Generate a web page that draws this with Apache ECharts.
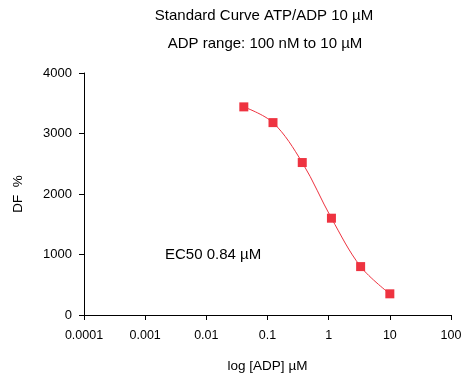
<!DOCTYPE html>
<html>
<head>
<meta charset="utf-8">
<script src="https://cdn.jsdelivr.net/npm/echarts@6/dist/echarts.min.js"></script>
<style>html,body{margin:0;padding:0;background:#fff;overflow:hidden}#c{width:466px;height:378px}</style>
</head>
<body>
<div id="c"></div>
<script>
var concentrations = [0.041, 0.123, 0.37, 1.11, 3.33, 10];
var dfValues = [3440, 3180, 2520, 1600, 800, 350];
var xTickLabels = ['0.0001', '0.001', '0.01', '0.1', '1', '10', '100'];
var yTicks = [0, 1000, 2000, 3000, 4000];
var titleLine1 = 'Standard Curve ATP/ADP 10 µM';
var titleLine2 = 'ADP range: 100 nM to 10 µM';
var ec50Label = 'EC50 0.84 µM';

var FONT = 'Liberation Sans, Arial, sans-serif';
var chart = echarts.init(document.getElementById('c'), null, {renderer: 'canvas', width: 466, height: 378});
var data = concentrations.map(function (c, i) { return [c, dfValues[i]]; });

chart.setOption({
  animation: false,
  backgroundColor: '#fff',
  textStyle: {fontFamily: FONT},
  grid: {left: 84, width: 367, top: 73, height: 244.5, containLabel: false},
  graphic: [
    {type: 'text', x: 264, y: 16, style: {text: titleLine1, font: '15px ' + FONT, fill: '#000', textAlign: 'center', textVerticalAlign: 'middle'}},
    {type: 'text', x: 265, y: 44, style: {text: titleLine2, font: '15px ' + FONT, fill: '#000', textAlign: 'center', textVerticalAlign: 'middle'}},
    {type: 'text', x: 165, y: 255, style: {text: ec50Label, font: '15px ' + FONT, fill: '#000', textAlign: 'left', textVerticalAlign: 'middle'}}
  ],
  xAxis: {
    type: 'log',
    logBase: 10,
    min: 0.0001,
    max: 100,
    name: 'log [ADP] µM',
    nameLocation: 'middle',
    nameGap: 51,
    nameTextStyle: {color: '#000', fontSize: 13.5, fontFamily: FONT, verticalAlign: 'middle'},
    axisLine: {show: true, onZero: false, lineStyle: {color: '#000', width: 1}},
    axisTick: {show: true, inside: false, length: 5, lineStyle: {color: '#000'}},
    minorTick: {show: false},
    splitLine: {show: false},
    axisLabel: {
      color: '#000', fontSize: 12.5, fontFamily: FONT, margin: 14,
      formatter: function (v) {
        var idx = Math.round(Math.log10(v)) + 4;
        return xTickLabels[idx] !== undefined ? xTickLabels[idx] : '';
      }
    }
  },
  yAxis: {
    type: 'value',
    min: yTicks[0],
    max: yTicks[yTicks.length - 1],
    interval: 1000,
    name: 'DF  %',
    nameLocation: 'middle',
    nameGap: 59,
    nameRotate: 90,
    nameTextStyle: {color: '#000', fontSize: 13.5, fontFamily: FONT},
    axisLine: {show: true, onZero: false, lineStyle: {color: '#000', width: 1}},
    axisTick: {show: true, inside: false, length: 5, lineStyle: {color: '#000'}},
    splitLine: {show: false},
    axisLabel: {color: '#000', fontSize: 13, fontFamily: FONT, margin: 12, formatter: function (v) { return String(v); }}
  },
  series: [{
    type: 'line',
    data: data,
    smooth: 0.35,
    symbol: 'rect',
    symbolSize: 9,
    itemStyle: {color: '#ee3340'},
    lineStyle: {color: '#ee3340', width: 1}
  }]
});
</script>
</body>
</html>
